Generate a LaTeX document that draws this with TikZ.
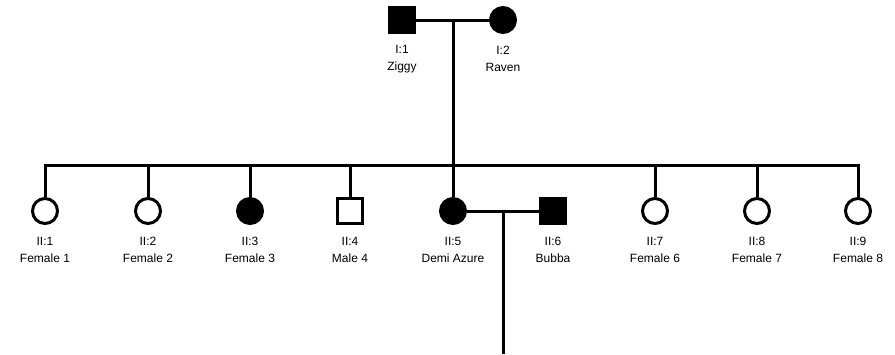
\documentclass[tikz,border=0pt]{standalone}
\usepackage{fontspec}
\setmainfont{Liberation Sans}
\begin{document}
\begin{tikzpicture}[x=1pt,y=-1pt,
  ln/.style={line width=3pt},
  fem/.style={circle,draw,line width=3pt,minimum size=25pt,inner sep=0pt},
  mal/.style={rectangle,draw,line width=3pt,minimum size=25pt,inner sep=0pt},
  aff/.style={fill=black},
  lab/.style={align=center,font=\fontsize{12}{16.5}\selectfont,inner sep=0pt}]
\useasboundingbox (0,0) rectangle (895,354);
% generation I
\node[mal,aff] (p1) at (402,20) {};
\node[fem,aff] (p2) at (503,20) {};
\node[lab] (lp1) at (402,59) {I:1\\Ziggy};
\node[lab] (lp2) at (503,59) {I:2\\Raven};
% generation II
\node[fem] (c1) at (45,211) {};
\node[fem] (c2) at (148,211) {};
\node[fem,aff] (c3) at (250,211) {};
\node[mal] (c4) at (350,211) {};
\node[fem,aff] (c5) at (453,211) {};
\node[mal,aff] (c6) at (553,211) {};
\node[fem] (c7) at (655,211) {};
\node[fem] (c8) at (757,211) {};
\node[fem] (c9) at (858,211) {};
\node[lab] (l1) at (45,250) {II:1\\Female 1};
\node[lab] (l2) at (148,250) {II:2\\Female 2};
\node[lab] (l3) at (250,250) {II:3\\Female 3};
\node[lab] (l4) at (350,250) {II:4\\Male 4};
\node[lab] (l5) at (453,250) {II:5\\Demi Azure};
\node[lab] (l6) at (553,250) {II:6\\Bubba};
\node[lab] (l7) at (655,250) {II:7\\Female 6};
\node[lab] (l8) at (757,250) {II:8\\Female 7};
\node[lab] (l9) at (858,250) {II:9\\Female 8};
% connectors
\coordinate (m1) at (453,20);
\coordinate (sib) at (453,165);
\coordinate (m2) at (503,211);
\coordinate (bot) at (503,354);
\draw[ln] (p1.east) -- (p2.west);
\draw[ln] (m1) -- (sib);
\draw[ln] ([xshift=-1.5pt]c1.north |- sib) -- ([xshift=1.5pt]c9.north |- sib);
\foreach \c in {c1,c2,c3,c4,c5,c7,c8,c9}{
  \draw[ln] (\c.north) -- (\c.north |- sib);
}
\draw[ln] (c5.east) -- (c6.west);
\draw[ln] (m2) -- (bot);
\end{tikzpicture}
\end{document}
